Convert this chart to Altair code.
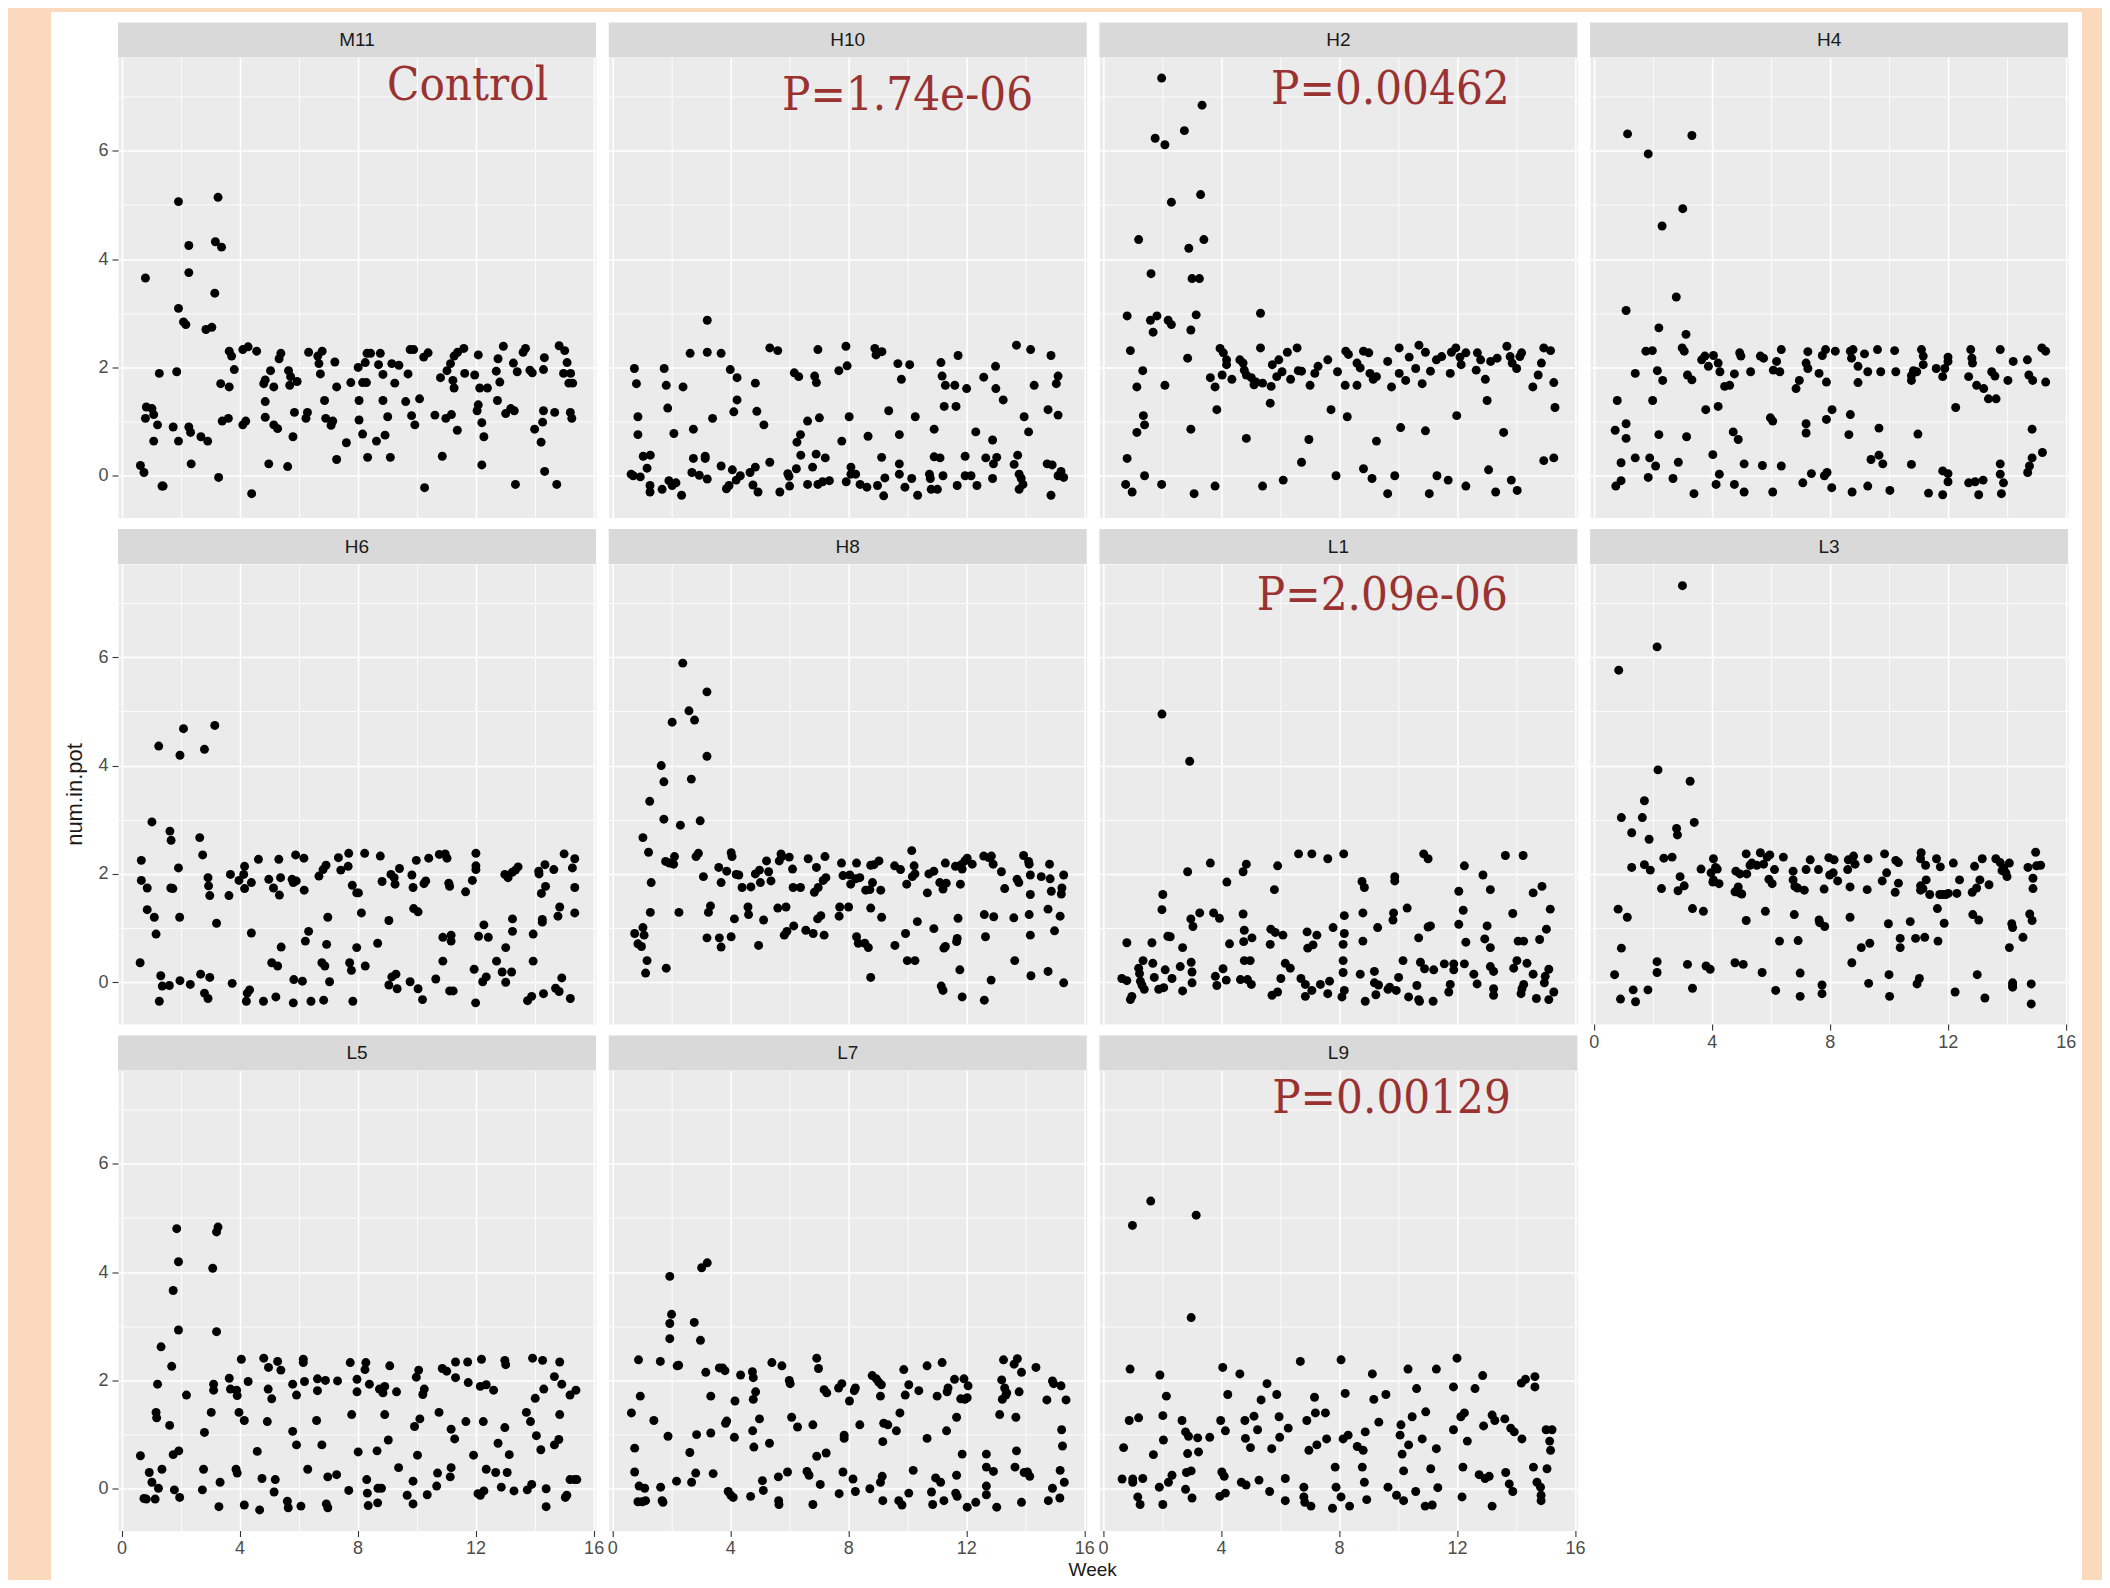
import altair as alt
import pandas as pd

PANEL_NAMES = ["M11", "H10", "H2", "H4", "H6", "H8", "L1", "L3", "L5", "L7", "L9"]

M11 = [(0.64,0.19),(0.76,0.06),(0.81,3.65),(0.84,1.27),(0.81,1.06),(1.03,1.24),(1.09,1.13),(1.09,0.64),(1.22,0.94),(1.28,1.89),(1.37,-0.19),(1.41,-0.19),(1.75,0.90),(1.87,1.92),(1.93,5.06),(1.93,3.09),(1.93,0.64),(2.10,2.84),(2.18,2.79),(2.28,4.25),(2.28,3.75),(2.28,0.90),(2.34,0.80),(2.36,0.22),(2.69,0.72),(2.86,2.70),(2.92,0.64),(3.06,2.74),(3.16,3.37),(3.18,4.32),(3.27,5.14),(3.29,-0.03),(3.36,1.70),(3.39,4.22),(3.41,1.01),(3.65,2.30),(3.65,1.64),(3.73,2.21),(3.82,1.96),(3.62,1.06),(4.11,2.33),(4.11,0.94),(4.21,1.01),(4.29,2.38),(4.41,-0.33),(4.58,2.30),(4.82,1.70),(4.87,1.77),(4.87,1.37),(4.87,1.08),(4.99,0.22),(5.05,1.94),(5.16,1.64),(5.16,0.94),(5.29,0.87),(5.34,2.16),(5.40,2.26),(5.63,0.17),(5.66,1.94),(5.70,1.67),(5.73,1.83),(5.81,0.72),(5.86,1.17),(5.95,1.74),(6.25,1.06),(6.30,1.17),(6.34,2.28),(6.65,2.21),(6.69,2.07),(6.80,2.30),(6.74,1.88),(6.88,1.39),(6.92,1.06),(7.10,0.93),(7.16,1.01),(7.23,2.10),(7.29,1.64),(7.29,0.30),(7.62,0.61),(7.77,1.72),(8.02,2.00),(8.05,1.39),(8.05,1.03),(8.17,0.77),(8.17,1.72),(8.26,2.09),(8.30,1.72),(8.32,2.26),(8.34,0.34),(8.44,2.26),(8.64,0.64),(8.71,2.05),(8.77,2.26),(8.86,1.87),(8.86,1.39),(8.93,0.75),(9.02,1.09),(9.11,0.34),(9.16,2.07),(9.26,1.71),(9.40,2.04),(9.63,1.37),(9.71,1.88),(9.78,2.33),(9.83,1.11),(9.90,2.33),(9.94,0.94),(10.10,1.42),(10.27,-0.22),(10.24,2.19),(10.39,2.27),(10.62,1.12),(10.81,1.81),(10.87,0.36),(10.99,1.06),(11.03,1.94),(11.15,2.07),(11.18,1.13),(11.23,1.76),(11.27,1.62),(11.27,2.21),(11.38,0.84),(11.39,2.28),(11.60,2.35),(11.63,1.89),(11.97,1.86),(12.05,1.20),(12.09,2.23),(12.09,1.31),(12.14,1.62),(12.21,0.98),(12.21,0.20),(12.28,0.72),(12.40,1.62),(12.70,1.93),(12.74,1.39),(12.76,2.16),(12.82,1.73),(12.94,2.39),(13.02,1.15),(13.19,1.24),(13.31,1.20),(13.28,2.08),(13.35,-0.16),(13.41,1.92),(13.61,2.28),(13.69,2.35),(13.84,1.95),(13.92,1.90),(14.00,0.86),(14.22,0.62),(14.27,0.99),(14.30,1.20),(14.30,1.96),(14.33,2.18),(14.34,0.08),(14.68,1.17),(14.75,-0.16),(14.83,2.40),(15.02,2.31),(15.10,2.09),(14.98,1.89),(15.16,1.71),(15.22,1.89),(15.21,1.17),(15.26,1.06),(15.29,1.71)]

H10 = [(0.75,1.98),(0.82,1.70),(0.87,1.09),(0.87,0.76),(0.64,0.03),(0.71,0.00),(0.95,-0.02),(1.05,0.36),(1.18,0.14),(1.29,0.38),(1.28,-0.18),(1.28,-0.30),(1.69,-0.25),(1.76,1.98),(1.83,1.67),(1.88,1.25),(1.92,-0.09),(2.03,-0.18),(2.09,0.78),(2.16,-0.13),(2.35,-0.36),(2.40,1.64),(2.64,2.26),(2.70,0.06),(2.75,0.86),(2.75,0.32),(2.95,0.01),(3.15,0.36),(3.15,0.32),(3.22,-0.06),(3.22,2.28),(3.22,2.87),(3.40,1.06),(3.69,2.26),(3.69,0.18),(3.87,-0.24),(3.96,-0.18),(4.00,1.96),(4.07,0.11),(4.12,1.18),(4.20,-0.08),(4.23,1.81),(4.23,1.40),(4.34,0.00),(4.67,0.06),(4.77,-0.17),(4.85,1.71),(4.85,0.16),(4.90,1.19),(4.94,-0.30),(5.14,0.94),(5.34,2.36),(5.34,0.25),(5.61,2.31),(5.68,-0.30),(5.95,0.04),(6.01,-0.19),(5.99,-0.01),(6.17,1.90),(6.24,0.13),(6.32,1.83),(6.26,0.62),(6.38,0.76),(6.39,0.38),(6.62,1.01),(6.62,-0.16),(6.79,0.16),(6.86,1.84),(6.92,1.72),(6.97,2.33),(6.97,-0.16),(6.91,0.40),(7.02,1.07),(7.13,-0.11),(7.22,0.33),(7.36,-0.09),(7.68,1.94),(7.78,0.64),(7.92,2.39),(7.93,-0.11),(7.96,2.03),(8.03,1.09),(8.09,0.03),(8.09,0.16),(8.25,0.03),(8.40,-0.16),(8.63,-0.21),(8.67,0.73),(8.90,2.35),(8.94,2.23),(8.99,-0.18),(9.13,0.34),(9.14,2.29),(9.20,-0.37),(9.24,-0.04),(9.37,1.20),(9.68,2.07),(9.73,0.22),(9.73,0.03),(9.73,0.76),(9.80,1.78),(9.92,-0.21),(10.08,2.05),(10.15,-0.05),(10.27,1.09),(10.35,-0.36),(10.75,0.03),(10.78,-0.05),(10.81,-0.25),(10.91,0.86),(10.91,0.35),(11.02,-0.25),(11.11,0.33),(11.14,2.09),(11.18,1.84),(11.21,0.00),(11.25,1.28),(11.29,1.67),(11.61,1.67),(11.65,1.28),(11.69,-0.18),(11.72,2.22),(11.96,0.36),(11.96,0.00),(12.01,1.61),(12.16,0.00),(12.32,0.81),(12.36,-0.18),(12.59,1.82),(12.66,0.33),(12.89,0.66),(12.89,-0.05),(12.92,0.22),(12.99,2.02),(13.00,1.61),(13.03,0.34),(13.25,1.40),(13.62,0.21),(13.70,2.41),(13.74,0.38),(13.79,0.03),(13.86,-0.05),(13.79,-0.25),(13.92,-0.16),(13.96,1.09),(14.11,0.81),(14.18,2.33),(14.30,1.67),(14.74,0.22),(14.77,1.22),(14.87,2.22),(14.87,-0.36),(14.91,0.20),(15.05,1.70),(15.11,1.84),(15.11,1.12),(15.11,0.00),(15.21,0.08),(15.30,-0.03)]

H2 = [(1.99,7.34),(3.36,6.84),(2.76,6.37),(1.77,6.23),(2.10,6.11),(2.32,5.05),(3.31,5.19),(1.21,4.36),(2.91,4.20),(3.42,4.36),(1.63,3.73),(3.02,3.64),(3.27,3.64),(0.82,2.95),(1.61,2.87),(1.83,2.95),(2.21,2.87),(2.32,2.79),(1.70,2.65),(2.98,2.69),(3.16,2.97),(5.34,3.00),(0.93,2.31),(2.87,2.17),(1.35,1.94),(1.15,1.64),(2.10,1.67),(1.37,1.11),(1.41,0.94),(1.15,0.80),(2.98,0.86),(0.82,0.32),(1.41,0.00),(0.77,-0.16),(0.99,-0.30),(1.99,-0.16),(3.09,-0.33),(3.80,-0.19),(3.86,1.22),(4.86,0.69),(5.41,-0.19),(6.11,-0.08),(6.73,0.25),(6.98,0.67),(7.73,1.22),(7.90,0.00),(8.28,1.09),(8.83,0.13),(9.12,-0.05),(9.27,0.64),(9.65,-0.33),(9.89,0.00),(10.09,0.89),(10.93,0.83),(11.06,-0.33),(11.32,0.00),(11.70,-0.08),(11.99,1.11),(12.30,-0.19),(13.02,1.39),(13.07,0.11),(13.31,-0.30),(13.58,0.80),(13.84,-0.08),(14.04,-0.27),(14.94,0.28),(15.28,0.33),(15.32,1.26),(3.64,1.81),(3.80,1.64),(3.97,2.35),(4.08,2.27),(4.19,2.14),(4.04,1.86),(4.37,1.78),(4.19,2.05),(4.64,2.14),(4.75,2.08),(4.79,1.95),(4.86,1.86),(5.03,1.81),(5.12,1.68),(5.34,2.36),(5.19,1.73),(5.41,1.71),(5.67,1.34),(5.70,1.65),(5.74,2.05),(5.89,1.83),(5.96,2.14),(6.07,1.92),(6.25,2.28),(6.36,1.78),(6.58,2.36),(6.62,1.94),(6.73,1.93),(7.02,1.67),(7.18,1.89),(7.29,2.02),(7.62,2.14),(7.95,1.92),(8.23,2.30),(8.21,1.67),(8.32,2.24),(8.61,1.67),(8.61,2.08),(8.72,1.99),(8.83,2.30),(9.01,2.27),(9.05,1.89),(9.16,1.78),(9.27,1.83),(9.65,2.11),(9.78,1.64),(10.04,2.36),(10.04,1.89),(10.26,1.76),(10.38,2.19),(10.60,1.98),(10.71,2.41),(10.82,1.70),(10.93,2.28),(11.10,1.93),(11.30,2.14),(11.48,2.20),(11.77,1.89),(11.81,2.28),(11.96,2.36),(12.10,2.19),(12.14,2.05),(12.30,2.27),(12.69,2.27),(12.65,1.95),(12.80,2.14),(12.96,1.78),(13.14,2.11),(13.36,2.17),(13.69,2.39),(13.80,2.20),(13.87,2.08),(14.02,1.98),(14.13,2.20),(14.19,2.27),(14.57,1.64),(14.75,1.86),(14.86,2.08),(14.94,2.36),(15.17,2.31),(15.28,1.72)]

H4 = [(1.15,6.31),(3.33,6.28),(1.85,5.94),(3.02,4.93),(2.32,4.61),(2.80,3.30),(1.10,3.05),(2.21,2.73),(3.13,2.61),(1.77,2.30),(1.99,2.31),(3.00,2.36),(3.07,2.30),(1.41,1.89),(2.16,1.94),(2.34,1.76),(3.18,1.86),(3.33,1.77),(0.80,1.39),(2.00,1.39),(0.73,0.84),(1.10,0.96),(1.10,0.69),(2.21,0.76),(3.15,0.72),(1.41,0.33),(1.90,0.33),(0.93,0.24),(2.10,0.18),(2.87,0.25),(0.93,-0.09),(0.75,-0.19),(1.85,-0.03),(2.69,-0.05),(3.40,-0.33),(3.80,1.22),(4.22,1.28),(4.04,0.39),(4.26,0.03),(4.15,-0.16),(4.77,-0.16),(5.10,-0.30),(4.73,0.81),(4.90,0.67),(5.10,0.22),(5.72,0.19),(6.36,0.18),(5.99,1.07),(6.07,1.01),(6.07,-0.30),(7.09,-0.13),(7.38,0.04),(7.91,0.06),(7.82,0.00),(8.07,-0.22),(7.20,0.96),(7.20,0.79),(7.89,1.04),(8.08,1.22),(8.65,0.76),(8.70,1.13),(8.76,-0.30),(9.29,-0.19),(9.40,0.30),(9.67,0.38),(9.80,0.22),(9.67,0.88),(10.04,-0.27),(10.77,0.21),(10.99,0.77),(11.35,-0.32),(11.83,-0.35),(11.83,0.09),(12.01,0.04),(12.01,-0.11),(12.27,1.26),(12.71,-0.13),(12.93,-0.11),(13.20,-0.08),(13.05,-0.35),(13.38,1.42),(13.64,1.42),(13.78,0.22),(13.78,0.03),(13.89,-0.13),(13.82,-0.33),(14.71,0.06),(14.77,0.18),(14.86,0.33),(14.86,0.86),(15.21,0.43),(3.66,2.14),(3.77,2.21),(3.89,2.02),(4.06,2.22),(4.22,2.08),(4.28,1.92),(4.44,1.65),(4.61,1.67),(4.77,1.88),(4.95,2.27),(4.99,2.21),(5.32,1.92),(5.65,2.21),(5.76,2.17),(6.09,1.95),(6.20,2.11),(6.36,2.33),(6.31,1.92),(6.86,1.61),(6.97,1.76),(7.20,2.08),(7.26,2.29),(7.26,1.98),(7.64,1.89),(7.75,2.22),(7.86,2.33),(7.89,1.73),(8.19,2.30),(8.70,2.30),(8.74,2.17),(8.79,2.33),(8.96,2.02),(8.96,1.72),(9.18,2.25),(9.29,1.92),(9.62,2.33),(9.73,1.92),(10.24,1.92),(10.20,2.31),(10.77,1.85),(10.84,1.94),(10.77,1.76),(10.95,1.92),(11.11,2.33),(11.17,2.21),(11.17,2.05),(11.61,1.98),(11.83,1.83),(11.90,1.98),(12.01,2.19),(12.01,2.11),(12.78,2.33),(12.82,2.17),(12.71,1.83),(12.84,2.08),(12.98,1.67),(13.22,1.61),(13.49,1.92),(13.60,1.84),(13.78,2.33),(14.04,1.76),(14.22,2.11),(14.70,2.14),(14.75,1.86),(14.88,1.76),(15.19,2.36),(15.32,2.30),(15.32,1.73)]

H6 = [(0.63,0.36),(0.67,2.25),(0.67,1.88),(0.87,1.74),(0.87,1.34),(1.03,2.96),(1.11,1.20),(1.17,0.89),(1.26,4.36),(1.28,-0.35),(1.33,0.12),(1.38,-0.07),(1.64,2.79),(1.68,2.62),(1.62,-0.06),(1.67,1.74),(1.74,1.73),(1.93,2.11),(1.97,1.20),(1.98,4.19),(1.98,0.03),(2.10,4.68),(2.33,-0.04),(2.68,0.15),(2.65,2.67),(2.75,2.35),(2.81,4.30),(2.81,-0.20),(2.93,-0.30),(2.93,1.93),(2.95,1.78),(2.99,1.60),(2.99,0.09),(3.16,4.74),(3.22,1.09),(3.64,1.60),(3.69,1.99),(3.75,-0.02),(3.98,1.88),(4.14,1.99),(4.17,2.14),(4.17,1.73),(4.23,-0.35),(4.26,-0.20),(4.34,-0.14),(4.40,0.91),(4.40,1.84),(4.64,2.27),(4.81,-0.35),(4.99,1.90),(5.09,0.36),(5.15,1.74),(5.23,-0.27),(5.29,0.30),(5.33,2.27),(5.35,1.61),(5.39,1.93),(5.41,0.65),(5.78,1.90),(5.82,1.84),(5.82,-0.38),(5.84,0.05),(5.90,2.35),(5.92,1.87),(6.13,0.02),(6.18,2.29),(6.19,1.70),(6.23,0.76),(6.34,0.94),(6.42,-0.35),(6.69,1.96),(6.79,0.36),(6.83,2.08),(6.85,-0.33),(6.89,0.30),(6.93,2.16),(6.95,0.70),(6.99,1.20),(7.05,0.01),(7.35,2.30),(7.43,2.07),(7.68,2.14),(7.70,2.38),(7.73,0.36),(7.79,0.22),(7.82,1.79),(7.84,-0.35),(7.97,1.65),(7.97,0.64),(8.03,1.65),(8.13,1.28),(8.24,2.38),(8.26,0.30),(8.68,0.72),(8.77,2.33),(8.83,1.86),(9.06,1.14),(9.06,-0.05),(9.13,1.99),(9.16,0.10),(9.24,1.93),(9.27,1.81),(9.30,0.15),(9.34,-0.12),(9.42,2.10),(9.78,0.01),(9.84,1.98),(9.88,1.75),(9.90,1.36),(9.99,2.25),(10.05,1.30),(10.05,-0.12),(10.20,-0.32),(10.25,1.82),(10.31,1.87),(10.41,2.29),(10.65,0.06),(10.77,2.36),(10.89,0.83),(10.89,0.39),(10.97,2.37),(11.03,2.29),(11.09,1.83),(11.12,1.77),(11.17,0.87),(11.17,0.76),(11.12,-0.16),(11.24,-0.16),(11.66,1.67),(11.89,1.88),(11.95,0.24),(12.00,-0.38),(12.01,2.38),(12.01,2.15),(12.01,2.08),(12.10,0.85),(12.24,0.01),(12.28,1.06),(12.36,0.10),(12.43,0.83),(12.71,0.39),(12.90,0.19),(12.99,1.99),(13.02,0.64),(13.02,0.00),(13.10,1.93),(13.22,0.19),(13.24,2.03),(13.25,1.17),(13.25,0.94),(13.35,2.07),(13.44,2.13),(13.76,-0.34),(13.90,-0.26),(13.95,0.89),(13.95,0.39),(14.14,2.05),(14.15,2.00),(14.23,1.64),(14.26,1.16),(14.26,1.11),(14.30,-0.21),(14.35,2.17),(14.37,1.77),(14.65,2.08),(14.71,-0.11),(14.79,1.22),(14.83,-0.17),(14.85,1.39),(14.92,0.08),(15.00,2.37),(15.21,-0.30),(15.28,2.11),(15.36,2.28),(15.36,1.75),(15.36,1.28)]

H8 = [(0.76,0.90),(0.87,0.71),(0.99,0.66),(1.04,1.01),(1.08,0.87),(1.04,2.67),(1.13,0.17),(1.18,0.40),(1.23,2.40),(1.27,3.34),(1.29,1.29),(1.32,1.84),(1.66,4.00),(1.75,3.70),(1.75,3.01),(1.81,2.23),(1.83,0.26),(1.94,2.20),(2.03,4.80),(2.08,2.18),(2.11,2.32),(2.26,1.29),(2.31,2.90),(2.39,5.89),(2.60,5.01),(2.68,3.75),(2.79,4.84),(2.84,2.32),(2.92,2.38),(2.98,2.98),(3.09,1.95),(3.21,5.36),(3.21,4.17),(3.21,0.82),(3.26,1.29),(3.33,1.41),(3.61,2.12),(3.63,0.82),(3.69,1.84),(3.69,0.65),(4.03,2.39),(4.06,2.32),(4.03,0.84),(4.14,1.17),(3.88,2.05),(4.20,1.99),(4.29,1.98),(4.40,1.75),(4.60,1.39),(4.62,1.25),(4.70,1.76),(4.85,2.00),(4.96,0.68),(4.99,2.07),(5.02,1.84),(5.13,1.15),(5.23,2.24),(5.30,2.04),(5.38,1.87),(5.61,1.37),(5.66,2.24),(5.72,2.37),(5.75,2.32),(5.83,0.87),(5.89,1.39),(5.92,0.94),(6.00,2.31),(6.11,2.09),(6.15,1.04),(6.13,1.75),(6.38,1.75),(6.56,0.96),(6.64,2.28),(6.81,0.90),(6.85,1.66),(6.92,2.12),(6.96,1.17),(6.98,1.75),(7.07,1.23),(7.15,1.88),(7.18,0.87),(7.21,2.32),(7.24,1.93),(7.69,1.22),(7.71,1.39),(7.77,2.20),(7.82,1.97),(8.01,1.39),(8.05,1.98),(8.08,1.81),(8.25,1.91),(8.28,2.20),(8.28,0.84),(8.34,0.72),(8.39,1.93),(8.56,0.72),(8.59,1.70),(8.68,0.64),(8.73,1.71),(8.76,1.37),(8.76,0.09),(8.82,1.84),(8.76,2.16),(8.87,2.17),(9.04,2.24),(9.10,1.70),(9.13,1.20),(9.58,0.68),(9.57,2.15),(9.77,2.08),(9.94,0.90),(9.98,1.81),(10.00,0.40),(10.15,2.43),(10.17,1.95),(10.23,2.15),(10.26,0.40),(10.26,2.00),(10.34,1.12),(10.68,1.65),(10.73,2.00),(10.90,2.05),(10.90,0.99),(11.10,1.84),(11.15,-0.07),(11.21,-0.15),(11.21,1.72),(11.24,0.63),(11.29,0.66),(11.29,2.20),(11.32,1.83),(11.63,2.14),(11.67,0.75),(11.69,0.81),(11.72,1.18),(11.78,0.23),(11.80,1.81),(11.83,2.17),(11.86,-0.27),(11.86,2.09),(11.95,2.24),(12.03,2.29),(12.20,2.18),(12.59,2.33),(12.61,1.25),(12.61,-0.33),(12.65,0.84),(12.76,2.30),(12.85,2.33),(12.84,0.04),(12.91,2.18),(12.93,1.21),(13.19,2.04),(13.30,1.73),(13.61,1.19),(13.64,0.40),(13.72,1.90),(13.78,1.84),(13.94,2.34),(14.11,2.23),(14.13,2.18),(14.13,1.25),(14.17,1.98),(14.17,1.62),(14.17,0.87),(14.19,0.12),(14.54,1.95),(14.77,1.35),(14.77,0.20),(14.82,2.18),(14.84,1.91),(14.88,1.68),(14.99,0.95),(15.18,1.22),(15.22,1.63),(15.24,1.74),(15.30,1.98),(15.30,-0.01)]

L1 = [(0.81,0.73),(1.66,0.73),(2.00,4.95),(2.94,4.08),(2.87,2.04),(3.64,2.20),(4.86,2.18),(4.75,2.04),(4.20,1.85),(5.92,2.15),(5.81,1.71),(6.63,2.37),(7.08,2.37),(7.62,2.28),(8.16,2.37),(10.87,2.37),(11.02,2.28),(12.25,2.15),(12.88,1.98),(13.64,2.34),(14.24,2.34),(14.88,1.77),(14.58,1.65),(15.16,1.35),(13.89,1.27),(13.13,1.71),(12.06,1.68),(12.21,1.33),(12.06,1.07),(12.30,0.74),(13.02,1.04),(12.94,0.80),(13.13,0.64),(15.03,0.98),(14.80,0.79),(14.07,0.76),(14.26,0.76),(2.03,1.62),(2.00,1.34),(2.98,1.17),(3.05,1.03),(3.28,1.28),(3.75,1.28),(3.95,1.18),(4.75,1.26),(4.79,0.96),(4.77,0.75),(5.05,0.82),(4.29,0.71),(2.28,0.84),(2.20,0.85),(2.70,0.64),(8.78,1.86),(8.86,1.75),(9.89,1.95),(9.89,1.87),(10.31,1.37),(9.85,1.28),(9.83,1.15),(9.31,1.01),(8.81,1.28),(8.18,1.23),(7.80,1.01),(8.18,0.90),(8.14,0.70),(8.81,0.76),(7.25,0.87),(6.92,0.93),(7.12,0.69),(6.94,0.63),(5.69,0.98),(5.84,0.92),(6.10,0.87),(5.67,0.70),(11.02,1.02),(11.10,1.04),(10.70,0.82),(0.64,0.07),(0.81,0.03),(0.93,-0.32),(0.98,-0.26),(1.21,0.26),(1.24,0.16),(1.27,0.02),(1.32,-0.05),(1.36,0.40),(1.40,-0.13),(1.69,0.35),(1.74,0.09),(1.89,-0.13),(2.06,-0.10),(2.11,0.23),(2.34,0.07),(2.62,0.29),(2.70,-0.16),(2.99,0.37),(3.02,0.19),(3.02,-0.01),(3.81,0.11),(3.86,-0.06),(4.07,0.25),(4.18,0.04),(4.66,0.05),(4.79,0.40),(4.90,0.05),(4.99,0.40),(5.03,-0.04),(5.73,-0.24),(5.92,-0.18),(6.03,0.07),(6.18,0.35),(6.35,0.26),(6.71,0.07),(6.86,-0.04),(6.86,-0.26),(7.08,-0.15),(7.37,-0.04),(7.62,-0.21),(7.68,0.02),(8.10,-0.27),(8.18,-0.15),(8.14,0.18),(8.14,0.40),(8.72,0.15),(8.89,-0.35),(9.20,0.20),(9.20,-0.01),(9.25,-0.23),(9.34,-0.05),(9.66,-0.13),(9.72,-0.09),(9.94,-0.15),(10.02,0.09),(10.17,0.40),(10.36,-0.27),(10.64,-0.06),(10.70,-0.32),(10.73,-0.35),(10.76,0.37),(10.90,0.25),(11.21,0.23),(11.19,-0.35),(11.57,0.34),(11.72,-0.18),(11.77,-0.04),(11.89,0.34),(11.89,0.23),(12.25,0.34),(12.57,0.15),(12.68,-0.03),(13.13,0.29),(13.24,0.20),(13.24,-0.12),(13.24,-0.24),(13.92,0.26),(14.03,0.40),(14.17,-0.21),(14.20,-0.12),(14.26,-0.04),(14.37,0.35),(14.58,0.15),(14.69,-0.30),(14.96,-0.01),(14.99,0.11),(15.11,0.24),(15.11,-0.32),(15.28,-0.18)]

L3 = [(3.01,7.32),(0.85,5.76),(2.15,6.19),(2.18,3.92),(3.27,3.71),(1.72,3.35),(1.65,3.04),(0.94,3.04),(1.29,2.76),(1.88,2.64),(2.81,2.84),(2.84,2.72),(3.41,2.95),(1.29,2.12),(1.72,2.17),(1.92,2.07),(2.38,2.29),(2.66,2.31),(2.93,1.95),(2.30,1.73),(2.86,1.69),(3.07,1.78),(0.83,1.35),(1.14,1.20),(0.94,0.63),(0.71,0.14),(0.91,-0.31),(1.34,-0.14),(1.42,-0.36),(1.84,-0.14),(2.15,0.38),(2.15,0.18),(3.18,0.33),(3.35,1.36),(3.35,-0.11),(3.72,1.31),(3.64,2.09),(3.81,0.30),(3.95,0.24),(4.06,2.28),(3.98,2.02),(4.06,1.89),(4.13,2.12),(4.19,2.09),(4.04,1.85),(4.25,1.82),(4.79,1.67),(4.90,1.76),(4.94,1.65),(5.02,1.63),(4.82,2.05),(4.96,2.00),(5.17,2.37),(5.19,2.00),(5.17,1.14),(4.79,0.36),(5.07,0.33),(5.30,2.16),(5.36,2.20),(5.53,2.16),(5.65,2.39),(5.71,0.18),(5.76,2.18),(5.82,1.31),(5.88,2.31),(5.97,2.35),(5.94,1.90),(6.05,1.82),(6.13,2.08),(6.17,-0.15),(6.30,0.76),(6.43,2.31),(6.76,2.05),(6.76,1.89),(6.82,1.77),(6.91,1.74),(6.80,1.25),(6.93,0.77),(7.00,0.17),(7.00,-0.26),(7.14,1.70),(7.20,2.08),(7.34,2.26),(7.64,1.15),(7.66,1.10),(7.74,-0.05),(7.74,-0.21),(7.81,1.72),(7.83,1.03),(7.62,2.08),(7.97,2.30),(8.00,1.98),(8.15,2.26),(8.12,2.02),(8.27,1.87),(8.61,2.08),(8.63,2.26),(8.75,0.36),(8.69,1.76),(8.69,1.20),(8.81,2.33),(8.86,2.18),(9.07,0.64),(9.27,1.71),(9.30,2.28),(9.32,-0.02),(9.36,0.72),(9.78,1.87),(9.86,2.37),(9.93,2.02),(9.99,1.08),(10.01,0.14),(10.03,-0.26),(10.22,1.66),(10.24,2.25),(10.33,2.21),(10.33,1.83),(10.39,0.81),(10.39,0.64),(10.73,1.12),(10.91,0.81),(10.96,-0.03),(11.04,0.07),(11.08,1.70),(11.08,1.78),(11.10,2.39),(11.08,2.28),(11.16,1.73),(11.22,0.83),(11.25,2.16),(11.27,1.89),(11.39,1.62),(11.62,2.28),(11.65,1.36),(11.67,0.76),(11.75,2.13),(11.73,1.62),(11.83,1.62),(11.88,1.09),(11.94,1.62),(12.02,1.64),(12.19,2.20),(12.25,-0.18),(12.31,1.64),(12.40,1.89),(12.83,1.66),(12.85,1.25),(12.91,2.14),(12.98,1.74),(13.00,0.14),(13.05,1.15),(13.09,1.89),(13.17,2.28),(13.26,-0.29),(13.40,1.80),(13.63,2.28),(13.78,2.21),(13.84,2.06),(13.90,2.11),(13.97,2.02),(14.01,1.95),(14.09,0.64),(14.09,2.20),(14.17,1.08),(14.20,1.01),(14.20,-0.01),(14.20,-0.09),(14.20,-0.05),(14.55,0.83),(14.72,2.12),(14.78,1.26),(14.83,-0.03),(14.86,1.14),(14.83,-0.40),(14.89,1.92),(14.89,1.73),(14.98,2.40),(15.01,2.15),(15.15,2.16)]

L5 = [(0.64,0.61),(0.76,-0.18),(0.84,-0.19),(0.94,0.30),(1.03,0.12),(1.14,-0.19),(1.17,1.41),(1.19,1.31),(1.22,1.93),(1.25,0.01),(1.34,2.62),(1.37,0.36),(1.63,1.17),(1.70,2.26),(1.75,3.66),(1.75,0.63),(1.79,-0.02),(1.87,4.80),(1.93,4.19),(1.93,2.93),(1.94,0.70),(1.97,-0.16),(2.20,1.73),(2.74,-0.02),(2.78,0.36),(2.81,1.04),(3.04,1.41),(3.09,4.07),(3.12,1.93),(3.12,1.82),(3.22,4.74),(3.27,4.83),(3.22,2.90),(3.30,-0.33),(3.34,0.12),(3.65,2.04),(3.69,1.84),(3.88,0.36),(3.92,0.29),(3.90,1.82),(3.92,1.72),(3.98,1.41),(4.06,2.39),(4.16,1.26),(4.16,-0.30),(4.29,1.98),(4.60,0.69),(4.68,-0.39),(4.76,0.19),(4.82,2.41),(4.94,1.24),(4.97,1.84),(4.98,2.24),(5.09,1.66),(5.17,-0.06),(5.21,0.17),(5.29,2.35),(5.40,2.19),(5.62,-0.23),(5.65,-0.35),(5.80,1.06),(5.80,1.93),(5.93,1.73),(5.93,0.81),(6.08,-0.32),(6.16,2.33),(6.16,2.39),(6.20,1.98),(6.31,0.36),(6.61,1.26),(6.64,2.03),(6.64,1.81),(6.79,0.81),(6.91,2.00),(6.94,-0.28),(6.99,-0.35),(6.99,0.22),(7.29,0.26),(7.32,1.99),(7.70,-0.03),(7.75,2.33),(7.80,1.37),(7.98,2.02),(7.98,1.79),(8.02,0.68),(8.25,2.20),(8.28,2.33),(8.31,0.17),(8.33,-0.08),(8.36,-0.31),(8.40,1.93),(8.66,0.70),(8.68,-0.26),(8.69,0.01),(8.74,1.84),(8.81,0.01),(8.86,1.77),(8.92,1.89),(8.92,1.37),(9.04,0.90),(9.09,2.27),(9.32,1.79),(9.39,0.39),(9.68,-0.12),(9.88,-0.28),(9.88,0.14),(9.93,1.15),(9.99,2.06),(10.03,0.62),(10.07,2.19),(10.11,1.29),(10.21,1.74),(10.26,1.84),(10.36,-0.11),(10.68,0.05),(10.71,0.29),(10.76,1.41),(10.87,2.22),(11.02,2.17),(11.14,0.22),(11.17,0.39),(11.17,1.10),(11.29,0.92),(11.32,2.34),(11.32,2.05),(11.67,1.24),(11.73,2.34),(11.75,1.96),(11.93,0.62),(12.08,-0.09),(12.16,-0.12),(12.16,1.89),(12.20,2.39),(12.26,1.24),(12.28,-0.04),(12.36,0.36),(12.36,1.92),(12.61,1.82),(12.68,0.30),(12.76,0.84),(12.87,0.03),(12.99,1.13),(12.99,2.37),(13.02,2.29),(13.07,0.30),(13.14,0.63),(13.30,-0.04),(13.72,1.41),(13.75,-0.02),(13.86,1.24),(13.90,0.08),(13.93,2.41),(14.02,1.67),(14.06,0.98),(14.21,0.72),(14.27,2.37),(14.31,1.84),(14.39,0.00),(14.39,-0.33),(14.67,2.07),(14.67,0.81),(14.82,0.91),(14.85,2.34),(14.85,1.37),(14.92,1.93),(15.04,-0.16),(15.09,-0.12),(15.20,1.73),(15.20,0.17),(15.35,0.17),(15.40,1.82),(15.43,0.17)]

L7 = [(0.65,1.40),(0.76,0.75),(0.76,0.31),(0.87,-0.24),(0.89,2.38),(0.91,0.05),(0.95,1.71),(1.02,-0.24),(1.10,0.01),(1.13,-0.22),(1.41,1.26),(1.63,2.35),(1.64,0.03),(1.69,-0.22),(1.72,-0.25),(1.89,0.97),(1.95,2.77),(1.95,3.92),(1.95,3.05),(2.01,3.22),(2.18,0.14),(2.20,2.27),(2.25,2.28),(2.63,0.67),(2.69,0.12),(2.78,3.07),(2.83,0.29),(2.86,1.00),(2.99,2.74),(3.03,4.08),(3.17,2.15),(3.22,4.17),(3.34,1.71),(3.34,1.03),(3.42,0.28),(3.63,2.23),(3.74,2.23),(3.82,2.18),(3.84,1.21),(3.88,1.25),(3.93,-0.05),(4.02,-0.12),(4.10,-0.16),(4.14,0.95),(4.16,1.62),(4.35,2.10),(4.69,-0.14),(4.75,2.16),(4.76,1.07),(4.78,1.65),(4.78,2.05),(4.80,0.77),(4.86,1.79),(4.99,1.29),(5.09,0.15),(5.12,-0.03),(5.33,0.84),(5.41,2.33),(5.63,0.22),(5.64,-0.22),(5.65,-0.29),(5.75,2.27),(5.94,0.31),(6.00,2.00),(6.03,1.94),(6.08,1.32),(6.28,1.14),(6.60,0.32),(6.67,0.25),(6.80,1.18),(6.80,-0.29),(6.93,2.41),(6.93,0.60),(6.99,2.22),(7.05,0.08),(7.18,1.83),(7.27,1.77),(7.25,0.66),(7.67,1.86),(7.69,-0.09),(7.78,1.94),(7.82,0.31),(7.86,0.99),(7.86,0.93),(8.04,1.62),(8.16,0.18),(8.20,1.81),(8.24,1.86),(8.24,-0.05),(8.39,1.18),(8.73,0.00),(8.81,2.09),(8.95,2.03),(9.03,1.97),(9.09,1.71),(9.09,0.12),(9.12,1.92),(9.15,0.23),(9.17,0.87),(9.17,-0.22),(9.20,1.21),(9.34,1.18),(9.63,1.07),(9.71,-0.22),(9.75,1.40),(9.82,-0.30),(9.88,2.20),(9.93,1.73),(10.05,1.92),(10.05,-0.08),(10.20,0.34),(10.39,1.81),(10.67,2.27),(10.67,0.93),(10.82,-0.06),(10.86,-0.29),(10.96,0.20),(11.01,1.71),(11.13,0.12),(11.18,2.33),(11.24,-0.22),(11.33,1.07),(11.35,1.79),(11.38,1.86),(11.60,2.02),(11.64,-0.08),(11.67,0.25),(11.69,-0.14),(11.67,1.32),(11.81,1.66),(11.86,0.64),(11.92,2.03),(11.95,1.65),(12.03,1.68),(12.03,-0.34),(12.06,1.90),(12.32,-0.25),(12.68,0.64),(12.68,0.40),(12.68,0.05),(12.68,-0.11),(12.92,0.32),(13.03,-0.34),(13.13,1.37),(13.20,2.01),(13.22,1.65),(13.26,2.38),(13.30,1.86),(13.34,1.73),(13.37,1.77),(13.62,2.30),(13.65,0.40),(13.68,1.32),(13.70,0.70),(13.73,2.40),(13.79,1.79),(13.87,-0.25),(13.87,2.15),(13.96,0.30),(14.07,0.31),(14.15,0.23),(14.36,2.24),(14.73,1.64),(14.78,-0.22),(14.92,1.99),(14.96,1.94),(15.18,0.34),(15.17,-0.17),(15.21,1.90),(15.23,1.09),(15.26,0.79),(15.32,0.12),(14.92,0.01),(15.38,1.64)]

L9 = [(1.00,4.86),(1.62,5.31),(3.16,5.05),(2.99,3.16),(0.92,2.21),(1.93,2.10),(0.70,0.76),(0.89,1.26),(1.21,1.31),(0.65,0.18),(1.01,0.18),(1.01,0.12),(1.35,0.19),(1.18,-0.15),(1.26,-0.29),(1.71,0.63),(1.91,0.03),(2.03,-0.29),(2.05,0.90),(2.03,1.35),(2.15,1.71),(2.22,0.12),(2.34,0.25),(2.68,1.26),(2.80,1.05),(2.87,0.65),(2.83,0.30),(2.80,-0.01),(2.90,0.97),(2.99,0.33),(3.02,-0.17),(3.21,0.94),(3.24,0.68),(3.62,0.95),(3.99,1.26),(4.06,2.24),(4.11,0.23),(4.15,1.07),(4.23,1.74),(3.96,-0.14),(4.03,0.31),(4.15,-0.08),(4.64,2.12),(4.69,0.12),(4.81,1.26),(4.85,0.07),(4.83,0.93),(5.00,0.76),(5.12,1.34),(5.24,1.09),(5.29,0.16),(5.36,1.64),(5.56,1.94),(5.65,-0.05),(5.72,0.74),(5.89,1.74),(5.97,1.33),(5.99,0.95),(6.18,0.19),(6.18,-0.22),(6.28,1.12),(6.69,2.35),(6.81,0.03),(6.81,-0.15),(6.84,-0.25),(6.91,1.26),(6.98,0.71),(7.05,-0.32),(7.17,1.69),(7.20,1.40),(7.25,0.81),(7.54,1.40),(7.58,0.92),(7.78,-0.36),(7.87,0.40),(7.90,0.03),(8.07,2.38),(8.07,-0.15),(8.14,0.92),(8.21,1.76),(8.31,0.99),(8.36,-0.32),(8.62,0.78),(8.79,0.40),(8.82,0.71),(8.86,0.12),(8.89,1.05),(8.94,-0.20),(9.13,2.12),(9.18,1.65),(9.35,1.23),(9.59,1.74),(9.66,0.03),(9.95,-0.12),(10.07,0.99),(10.10,1.18),(10.14,0.64),(10.19,0.33),(10.19,-0.22),(10.34,2.21),(10.36,0.81),(10.48,1.33),(10.63,1.85),(10.60,-0.05),(10.82,0.92),(10.92,-0.32),(10.94,1.42),(11.11,0.37),(11.16,-0.30),(11.30,2.21),(11.30,0.74),(11.35,0.02),(11.88,1.09),(11.88,1.88),(12.00,2.41),(12.13,1.33),(12.17,-0.15),(12.20,0.40),(12.25,1.40),(12.35,0.88),(12.61,1.85),(12.75,0.26),(12.87,2.09),(12.90,1.16),(12.95,0.19),(13.09,0.23),(13.19,1.36),(13.19,-0.32),(13.28,1.26),(13.62,1.29),(13.65,0.30),(13.77,0.09),(13.82,1.12),(13.89,-0.05),(13.94,1.05),(14.20,0.92),(14.18,1.95),(14.32,2.02),(14.59,0.40),(14.64,1.88),(14.64,2.07),(14.71,0.12),(14.83,0.03),(14.85,-0.12),(14.85,-0.22),(15.02,1.09),(15.05,0.37),(15.14,0.88),(15.17,0.71),(15.22,1.09)]

POINTS = {"M11": M11, "H10": H10, "H2": H2, "H4": H4, "H6": H6, "H8": H8,
          "L1": L1, "L3": L3, "L5": L5, "L7": L7, "L9": L9}

# annotations: text, centre week, baseline value
NOTE_PANEL = ["M11", "H10", "H2", "L1", "L9"]
NOTE_TEXT = ["Control", "P=1.74e-06", "P=0.00462", "P=2.09e-06", "P=0.00129"]
NOTE_WEEK = [11.73, 10.01, 9.74, 9.47, 9.78]
NOTE_VALUE = [6.94, 6.76, 6.87, 6.88, 6.93]

X_TICKS = [0, 2, 4, 6, 8, 10, 12, 14, 16]
Y_TICKS = [0, 1, 2, 3, 4, 5, 6, 7]
X_TITLE = ["Week"]
Y_TITLE = "num.in.pot"

# ---- layout / style ----
W, H = 478, 460
STRIP_H = 35
COL_SP, ROW_SP = 12.7, 46.5
PAD_L, PAD_T = 110, 49.5
TOTAL_W, TOTAL_H = 2094, 1572
PEACH = "#FBD9BD"
RED = "#9A3232"
SANS = "Liberation Sans"
SERIF = "DejaVu Serif Condensed, DejaVu Serif"

xs = alt.Scale(domain=[-0.12, 16.08], nice=False, zero=False)
ys = alt.Scale(domain=[-0.77, 7.72], nice=False, zero=False)

X_GRID_W = {"condition": {"test": "datum.value % 4 !== 0", "value": 0.8}, "value": 1.6}
Y_GRID_W = {"condition": {"test": "datum.value % 2 !== 0", "value": 0.8}, "value": 1.6}
X_TICK_OP = {"condition": {"test": "datum.value % 4 !== 0", "value": 0}, "value": 1}
Y_TICK_OP = {"condition": {"test": "datum.value % 2 !== 0", "value": 0}, "value": 1}


def x_axis(show):
    if show:
        return alt.Axis(values=X_TICKS, title=None, gridWidth=X_GRID_W, tickOpacity=X_TICK_OP,
                        labelPadding=3, labelExpr="datum.value % 4 === 0 ? datum.label : ''")
    return alt.Axis(values=X_TICKS, title=None, gridWidth=X_GRID_W, labels=False, ticks=False)


def y_axis(show, with_title):
    if show:
        if with_title:
            return alt.Axis(values=Y_TICKS, title=Y_TITLE, gridWidth=Y_GRID_W, tickOpacity=Y_TICK_OP,
                            labelExpr="datum.value % 2 === 0 ? datum.label : ''")
        return alt.Axis(values=Y_TICKS, title=None, gridWidth=Y_GRID_W, tickOpacity=Y_TICK_OP,
                        labelExpr="datum.value % 2 === 0 ? datum.label : ''")
    return alt.Axis(values=Y_TICKS, title=None, gridWidth=Y_GRID_W, labels=False, ticks=False)


panels = []
for i, name in enumerate(PANEL_NAMES):
    col, row = i % 4, i // 4
    show_x = row == 2 or (row == 1 and col == 3)
    show_y = col == 0
    xenc = alt.X("week:Q", scale=xs, axis=x_axis(show_x))
    yenc = alt.Y("value:Q", scale=ys, axis=y_axis(show_y, name == "H6"))
    df = pd.DataFrame(POINTS[name], columns=["week", "value"])
    one = pd.DataFrame({"panel": [name]})
    layers = []
    if i == 0:
        # peach frame around the white page area
        right = TOTAL_W - PAD_L
        bottom = TOTAL_H - PAD_T
        layers.append(alt.Chart(one).mark_rect(color=PEACH).encode(
            x=alt.value(-PAD_L), x2=alt.value(-67), y=alt.value(-PAD_T), y2=alt.value(bottom)))
        layers.append(alt.Chart(one).mark_rect(color=PEACH).encode(
            x=alt.value(-PAD_L), x2=alt.value(right), y=alt.value(-PAD_T), y2=alt.value(-45.5)))
        layers.append(alt.Chart(one).mark_rect(color=PEACH).encode(
            x=alt.value(1964), x2=alt.value(right), y=alt.value(-PAD_T), y2=alt.value(bottom)))
    layers.append(alt.Chart(df).mark_circle(size=80, color="black", opacity=1).encode(x=xenc, y=yenc))
    layers.append(alt.Chart(one).mark_rect(color="#D9D9D9").encode(
        x=alt.value(0), x2=alt.value(W), y=alt.value(-STRIP_H), y2=alt.value(0)))
    layers.append(alt.Chart(one).mark_text(font=SANS, fontSize=19, color="#1A1A1A", baseline="middle").encode(
        text="panel:N", x=alt.value(W / 2), y=alt.value(-STRIP_H / 2)))
    if name in NOTE_PANEL:
        k = NOTE_PANEL.index(name)
        ndf = pd.DataFrame({"week": [NOTE_WEEK[k]], "value": [NOTE_VALUE[k]], "note": [NOTE_TEXT[k]]})
        layers.append(alt.Chart(ndf).mark_text(font=SERIF, fontSize=47, color=RED,
                                               align="center", baseline="alphabetic").encode(
            x=xenc, y=yenc, text="note:N"))
    if name == "L7":
        wdf = pd.DataFrame({"t": X_TITLE})
        layers.append(alt.Chart(wdf).mark_text(font=SANS, fontSize=19, color="#1A1A1A",
                                               align="center", baseline="alphabetic").encode(
            text="t:N", x=alt.value(484), y=alt.value(505)))
    panels.append(alt.layer(*layers).properties(width=W, height=H))

chart = alt.concat(
    *panels, columns=4, spacing={"row": ROW_SP, "column": COL_SP}, bounds="flush",
    autosize=alt.AutoSizeParams(type="none"),
    padding={"left": PAD_L, "top": PAD_T, "right": TOTAL_W - PAD_L, "bottom": TOTAL_H - PAD_T},
    background="white",
).configure_view(
    fill="#EBEBEB", stroke="transparent"
).configure_axis(
    domain=False, grid=True, gridColor="white", tickColor="#333333", tickSize=6, tickWidth=1.1,
    labelFont=SANS, labelFontSize=18, labelColor="#4D4D4D", labelPadding=4, labelFlush=False,
    titleFont=SANS, titleFontSize=22, titleColor="#1A1A1A", titleFontWeight="normal", titlePadding=11
)

chart.save("out.html", embed_options={"renderer": "svg", "actions": False})
